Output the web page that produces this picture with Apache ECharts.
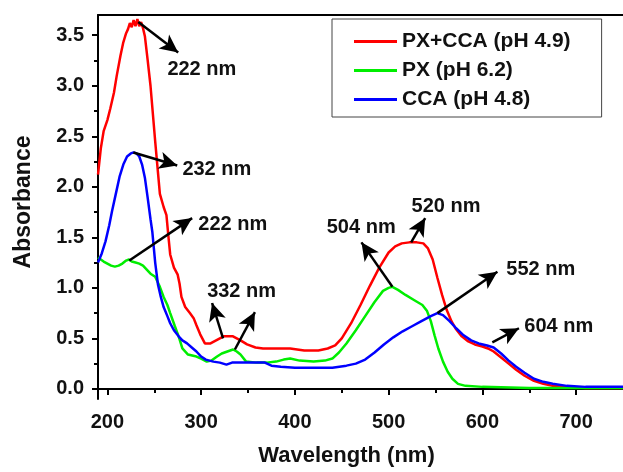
<!DOCTYPE html>
<html lang="en">
<head>
    <meta charset="UTF-8">
    <title>Absorbance spectra</title>
    <style>
        html, body { margin: 0; padding: 0; background: #fff; }
        #chart { width: 623px; height: 472px; }
    </style>
    <script src="https://cdn.jsdelivr.net/npm/echarts@6.0.0/dist/echarts.min.js"></script>
</head>
<body>
<div id="chart"></div>
<script type="text/javascript">
    // [wavelength nm, absorbance]
    var pxCca = [
        [190, 2.12], [193, 2.38], [196, 2.55], [200, 2.66], [203, 2.77], [207, 2.93],
        [210, 3.10], [214, 3.30], [217, 3.43], [220, 3.52], [222, 3.56], [224, 3.62],
        [226, 3.58], [228, 3.65], [230, 3.59], [232, 3.66], [234, 3.59], [236, 3.63],
        [238, 3.57], [240, 3.49], [243, 3.25], [246, 3.00], [251, 2.45], [256, 1.93],
        [260, 1.80], [263, 1.72], [265, 1.52], [267, 1.33], [271, 1.20], [275, 1.13],
        [277, 1.04], [279, 0.91], [283, 0.81], [288, 0.75], [292, 0.70], [295, 0.63],
        [299, 0.54], [304, 0.45], [310, 0.45], [318, 0.49], [324, 0.52], [334, 0.52],
        [342, 0.48], [349, 0.44], [358, 0.41], [366, 0.40], [395, 0.40], [410, 0.38],
        [425, 0.38], [435, 0.40], [443, 0.43], [450, 0.50], [460, 0.65], [470, 0.83],
        [480, 1.02], [490, 1.20], [500, 1.35], [507, 1.41], [514, 1.44], [522, 1.45],
        [530, 1.45], [537, 1.44], [542, 1.39], [547, 1.28], [552, 1.10], [557, 0.93],
        [562, 0.78], [567, 0.67], [572, 0.59], [578, 0.52], [585, 0.47], [592, 0.44],
        [600, 0.42], [606, 0.40], [612, 0.37], [620, 0.31], [628, 0.25], [636, 0.19],
        [645, 0.13], [655, 0.08], [665, 0.05], [675, 0.03], [690, 0.02], [710, 0.01],
        [730, 0.01], [750, 0.01]
    ];
    var px = [
        [190, 1.30], [193, 1.28], [196, 1.26], [200, 1.24], [204, 1.22], [208, 1.21],
        [212, 1.22], [216, 1.24], [220, 1.27], [223, 1.28], [226, 1.26], [230, 1.25],
        [234, 1.24], [238, 1.22], [242, 1.18], [246, 1.14], [251, 1.11], [256, 1.01],
        [260, 0.91], [264, 0.83], [267, 0.75], [272, 0.62], [276, 0.52], [280, 0.40],
        [286, 0.34], [295, 0.32], [300, 0.30], [306, 0.27], [311, 0.28], [317, 0.32],
        [322, 0.35], [328, 0.37], [334, 0.39], [338, 0.37], [342, 0.34], [348, 0.27],
        [359, 0.26], [370, 0.26], [380, 0.27], [388, 0.29], [395, 0.30], [405, 0.28],
        [420, 0.27], [432, 0.28], [440, 0.30], [447, 0.36], [455, 0.45], [465, 0.58],
        [475, 0.72], [485, 0.86], [494, 0.97], [500, 1.00], [504, 1.01], [510, 0.98],
        [518, 0.93], [527, 0.88], [536, 0.83], [541, 0.77], [545, 0.67], [549, 0.53],
        [553, 0.40], [558, 0.27], [563, 0.17], [568, 0.10], [574, 0.05], [582, 0.03],
        [600, 0.02], [650, 0.01], [700, 0.01], [750, 0.01]
    ];
    var cca = [
        [190, 1.25], [194, 1.34], [198, 1.46], [202, 1.62], [205, 1.76], [209, 1.93],
        [213, 2.10], [217, 2.22], [221, 2.30], [225, 2.33], [228, 2.34], [231, 2.33],
        [234, 2.30], [237, 2.22], [240, 2.09], [243, 1.89], [246, 1.68], [248, 1.55],
        [251, 1.25], [254, 1.03], [257, 0.91], [260, 0.81], [264, 0.72], [267, 0.65],
        [271, 0.58], [276, 0.52], [280, 0.48], [285, 0.45], [290, 0.41], [295, 0.37],
        [300, 0.32], [305, 0.29], [313, 0.27], [320, 0.26], [327, 0.24], [333, 0.26],
        [345, 0.26], [355, 0.26], [368, 0.26], [375, 0.23], [385, 0.22], [400, 0.21],
        [420, 0.21], [440, 0.21], [455, 0.23], [465, 0.25], [475, 0.29], [485, 0.36],
        [495, 0.44], [505, 0.51], [515, 0.57], [525, 0.62], [535, 0.67], [545, 0.72],
        [552, 0.75], [558, 0.73], [565, 0.67], [572, 0.60], [580, 0.53], [588, 0.48],
        [596, 0.45], [605, 0.43], [612, 0.41], [620, 0.35], [628, 0.28], [636, 0.22],
        [645, 0.16], [655, 0.10], [665, 0.07], [675, 0.05], [690, 0.03], [710, 0.02],
        [730, 0.02], [750, 0.02]
    ];

    var seriesNames = ['PX+CCA (pH 4.9)', 'PX (pH 6.2)', 'CCA (pH 4.8)'];
    var xTicks = [200, 300, 400, 500, 600, 700];
    var xMinorTicks = [250, 350, 450, 550, 650];
    var yTicks = [0, 0.5, 1.0, 1.5, 2.0, 2.5, 3.0, 3.5];
    var yMinorTicks = [0.25, 0.75, 1.25, 1.75, 2.25, 2.75, 3.25];

    // peak arrows: [from wl, from abs, to wl, to abs]
    var arrows = [
        [233, 3.63, 275.5, 3.33],
        [227.7, 2.34, 274.5, 2.21],
        [223.4, 1.27, 290.4, 1.69],
        [323.4, 0.50, 311.7, 0.85],
        [336, 0.39, 357.4, 0.76],
        [504, 1.01, 471, 1.45],
        [524, 1.45, 539, 1.69],
        [552, 0.75, 616, 1.16],
        [610.6, 0.46, 639, 0.60]
    ];
    // peak labels: [wl, abs, text] (left edge of text)
    var peakLabels = [
        [264, 3.16, '222 nm'],
        [280, 2.17, '232 nm'],
        [297, 1.63, '222 nm'],
        [306.4, 0.96, '332 nm'],
        [434, 1.60, '504 nm'],
        [524.5, 1.81, '520 nm'],
        [625.5, 1.18, '552 nm'],
        [644.7, 0.62, '604 nm']
    ];

    var font = 'Arial, "Liberation Sans", sans-serif';
    var chart = echarts.init(document.getElementById('chart'));

    var option = {
        animation: false,
        backgroundColor: '#fff',
        grid: { left: 98, top: 15, right: -1, bottom: 69 },
        legend: {
            data: seriesNames,
            orient: 'vertical',
            left: 332,
            top: 19,
            icon: 'rect',
            itemWidth: 43,
            itemHeight: 3,
            itemGap: 0,
            padding: [8, 31, 3, 22],
            backgroundColor: '#fff',
            borderColor: '#444',
            borderWidth: 1,
            textStyle: { fontFamily: font, fontWeight: 'bold', fontSize: 21, color: '#111', lineHeight: 29 }
        },
        xAxis: [{
            type: 'value', min: 190, max: 750,
            name: 'Wavelength (nm)', nameLocation: 'middle', nameGap: 46,
            nameTextStyle: { fontFamily: font, fontWeight: 'bold', fontSize: 22, color: '#111', padding: [0, 28, 0, 0] },
            splitLine: { show: false },
            axisLine: { lineStyle: { color: '#000', width: 2 } },
            axisTick: { customValues: xTicks, length: 6, lineStyle: { color: '#000', width: 2 } },
            axisLabel: { customValues: xTicks, margin: 13, fontFamily: font, fontWeight: 'bold', fontSize: 20, color: '#111' }
        }, {
            type: 'value', min: 190, max: 750, position: 'bottom',
            splitLine: { show: false }, axisLine: { show: false },
            axisTick: { customValues: xMinorTicks, length: 4, lineStyle: { color: '#000', width: 2 } },
            axisLabel: { show: false }
        }, {
            type: 'value', min: 190, max: 750, position: 'top',
            splitLine: { show: false },
            axisLine: { lineStyle: { color: '#000', width: 2 } },
            axisTick: { show: false }, axisLabel: { show: false }
        }],
        yAxis: [{
            type: 'value', min: -0.1, max: 3.7,
            name: 'Absorbance', nameLocation: 'middle', nameGap: 63, nameRotate: 90,
            nameTextStyle: { fontFamily: font, fontWeight: 'bold', fontSize: 23, color: '#111', padding: [0, 0, 0, 10] },
            splitLine: { show: false },
            axisLine: { lineStyle: { color: '#000', width: 2 } },
            axisTick: { customValues: yTicks, length: 6, lineStyle: { color: '#000', width: 2 } },
            axisLabel: {
                customValues: yTicks, margin: 14, fontFamily: font, fontWeight: 'bold', fontSize: 20, color: '#111',
                formatter: function (v) { return v.toFixed(1); }
            }
        }, {
            type: 'value', min: -0.1, max: 3.7, position: 'left',
            splitLine: { show: false }, axisLine: { show: false },
            axisTick: { customValues: yMinorTicks, length: 4, lineStyle: { color: '#000', width: 2 } },
            axisLabel: { show: false }
        }],
        series: [
            { name: seriesNames[0], type: 'line', data: pxCca, showSymbol: false, color: '#ff0000', lineStyle: { width: 2.5 } },
            { name: seriesNames[1], type: 'line', data: px, showSymbol: false, color: '#00ee00', lineStyle: { width: 2.5 } },
            { name: seriesNames[2], type: 'line', data: cca, showSymbol: false, color: '#0000ff', lineStyle: { width: 2.5 } },
            {
                type: 'line', data: [], silent: true,
                markLine: {
                    silent: true,
                    symbol: ['none', 'arrow'],
                    symbolSize: [13, 18],
                    label: { show: false },
                    lineStyle: { color: '#000', width: 2.5, type: 'solid' },
                    itemStyle: { color: '#000' },
                    emphasis: { disabled: true },
                    data: arrows.map(function (a) {
                        return [{ coord: [a[0], a[1]] }, { coord: [a[2], a[3]] }];
                    })
                }
            },
            {
                type: 'scatter', silent: true, symbolSize: 0,
                itemStyle: { opacity: 1 },
                data: peakLabels.map(function (p) { return { value: [p[0], p[1]], name: p[2] }; }),
                label: {
                    show: true, position: 'right', distance: 0,
                    formatter: function (p) { return p.name; },
                    fontFamily: font, fontWeight: 'bold', fontSize: 20, color: '#111'
                }
            }
        ]
    };
    chart.setOption(option);
</script>
</body>
</html>
